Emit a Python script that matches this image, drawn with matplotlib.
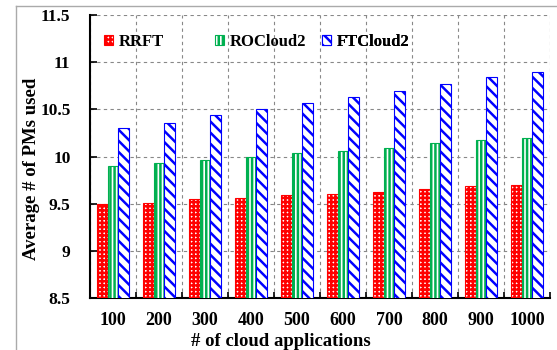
import matplotlib.pyplot as plt
import matplotlib.lines as mlines
import numpy as np

# data
apps = ['100', '200', '300', '400', '500', '600', '700', '800', '900', '1000']
rrft = [9.50, 9.51, 9.55, 9.56, 9.59, 9.60, 9.62, 9.66, 9.69, 9.70]
rocloud2 = [9.90, 9.93, 9.96, 9.99, 10.04, 10.06, 10.09, 10.14, 10.17, 10.20]
ftcloud2 = [10.30, 10.36, 10.44, 10.50, 10.57, 10.63, 10.70, 10.77, 10.84, 10.90]
series_names = ['RRFT', 'ROCloud2', 'FTCloud2']
y_ticks = [8.5, 9, 9.5, 10, 10.5, 11, 11.5]

plt.rcParams['font.family'] = ['Liberation Serif', 'DejaVu Serif']
plt.rcParams['font.weight'] = 'bold'
plt.rcParams['hatch.linewidth'] = 1.8

fig = plt.figure(figsize=(5.57, 3.5), dpi=100)
ax = fig.add_axes([0.1616, 0.1486, 0.8258, 0.8084])

x = np.arange(len(apps))
w = 0.225
styles = [
    dict(color='white', edgecolor='#ff0000', hatch='++++'),
    dict(color='white', edgecolor='#00b050', hatch='||||'),
    dict(color='white', edgecolor='#0000ff', hatch='\\\\\\'),
]
bars = []
for i, (vals, name) in enumerate(zip([rrft, rocloud2, ftcloud2], series_names)):
    b = ax.bar(x + (i - 1) * w, vals, w, label=name, linewidth=0.8, zorder=3,
               **styles[i])
    bars.append(b)

ax.set_xlim(-0.5, len(apps) - 0.5)
ax.set_ylim(8.5, 11.5)
ax.set_yticks(y_ticks)
ax.set_yticklabels([f'{t:g}' for t in y_ticks])
ax.set_xticks(x)
ax.set_xticklabels(apps)
ax.set_xticks(np.arange(-0.5, len(apps)), minor=True)

ax.tick_params(axis='x', which='major', length=0, pad=10, labelsize=13)
ax.tick_params(axis='x', which='minor', direction='in', length=4, width=1.2)
ax.tick_params(axis='y', direction='in', length=5, width=1.2, pad=14, labelsize=12.5)

ax.grid(axis='y', which='major', linestyle=(0, (3, 3)), color='#888888', lw=0.8, zorder=0)
ax.grid(axis='x', which='minor', linestyle=(0, (3, 3)), color='#888888', lw=0.8, zorder=0)
ax.spines['top'].set_visible(False)
ax.spines['right'].set_visible(False)
ax.spines['left'].set_linewidth(1.5)
ax.spines['bottom'].set_linewidth(1.5)

ax.set_ylabel('Average # of PMs used', fontsize=13.5, fontweight='bold')
ax.set_xlabel('# of cloud applications', fontsize=13.5, fontweight='bold')
ax.yaxis.set_label_coords(-0.109, 0.456)
ax.xaxis.set_label_coords(0.415, -0.124)

# one legend entry per series, placed like the reference
leg_x = [0.030, 0.272, 0.504]
for b, name, lx in zip(bars, series_names, leg_x):
    leg = ax.legend([b], [name], loc='center left', bbox_to_anchor=(lx, 0.905),
                    frameon=False, fontsize=12, borderpad=0, borderaxespad=0,
                    handlelength=0.55, handleheight=0.6, handletextpad=0.35)
    ax.add_artist(leg)

# thin grey frame on top and left of the figure
fig.add_artist(mlines.Line2D([16 / 557, 1], [1 - 6 / 350, 1 - 6 / 350], color='#aaaaaa', lw=1))
fig.add_artist(mlines.Line2D([16 / 557, 16 / 557], [0, 1 - 6 / 350], color='#aaaaaa', lw=1))

plt.savefig('out.png', dpi=100)
